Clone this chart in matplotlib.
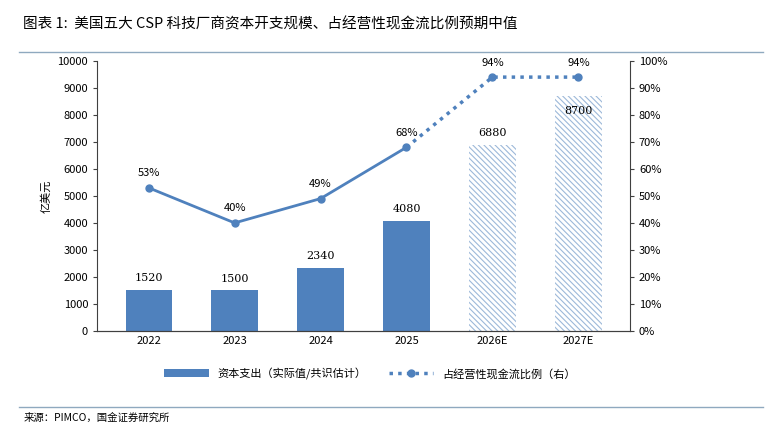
import matplotlib
matplotlib.use("Agg")
import matplotlib.pyplot as plt
from matplotlib.lines import Line2D
from matplotlib.patches import Patch

plt.rcParams['font.family'] = ['Noto Sans CJK SC', 'DejaVu Sans']
plt.rcParams['hatch.linewidth'] = 0.8

years = ['2022', '2023', '2024', '2025', '2026E', '2027E']
capex = [1520, 1500, 2340, 4080, 6880, 8700]
ratio = [53, 40, 49, 68, 94, 94]
n_actual = 4

blue = '#4F81BD'
fig = plt.figure(figsize=(7.71, 4.32), dpi=100)
ax = fig.add_axes([0.126, 0.234, 0.691, 0.625])
ax2 = ax.twinx()

x = list(range(len(years)))
for i in x:
    if i < n_actual:
        ax.bar(i, capex[i], width=0.54, color=blue, zorder=2)
    else:
        ax.bar(i, capex[i], width=0.54, facecolor='white', edgecolor='#9DB9D9',
               hatch='\\\\\\\\\\\\', linewidth=0, zorder=2)
    # the last bar's label sits inside the bar, under the line
    y_lab = capex[i] - 750 if i == len(x) - 1 else capex[i] + 250
    ax.text(i, y_lab, str(capex[i]), ha='center', va='bottom',
            fontsize=8, family='DejaVu Serif', zorder=4)

ax.set_ylim(0, 10000)
ax.set_yticks(range(0, 10001, 1000))
ax.set_xlim(-0.6, 5.6)
ax.set_xticks(x)
ax.set_xticklabels(years)
ax.set_ylabel('亿美元', fontsize=8)

ax2.plot(x[:n_actual], ratio[:n_actual], color=blue, lw=2, marker='o', ms=5, zorder=3)
ax2.plot(x[n_actual - 1:], ratio[n_actual - 1:], color=blue, lw=2.5, ls=(0, (1, 1.5)),
         marker='o', ms=5, markevery=list(range(1, 3)), zorder=3)
for i in x:
    ax2.text(i, ratio[i] + 3.5, f'{ratio[i]}%', ha='center', va='bottom', fontsize=8)
ax2.set_ylim(0, 100)
ax2.set_yticks(range(0, 101, 10))
ax2.set_yticklabels([f'{v}%' for v in range(0, 101, 10)])

for a in (ax, ax2):
    a.spines['top'].set_visible(False)
    a.tick_params(labelsize=8, length=3, color='#404040')
    for s in a.spines.values():
        s.set_color('#404040')
ax.spines['right'].set_visible(False)
ax2.spines['left'].set_visible(False)
ax.tick_params(axis='x', length=0)

handles = [Patch(facecolor=blue),
           Line2D([0], [0], color=blue, lw=2.5, ls=(0, (1, 1.5)), marker='o', ms=5)]
fig.legend(handles, ['资本支出（实际值/共识估计）', '占经营性现金流比例（右）'],
           loc='center', bbox_to_anchor=(0.48, 0.135), ncol=2, frameon=False,
           fontsize=8, handlelength=4, columnspacing=2)

fig.text(0.03, 0.945, '图表 1:  美国五大 CSP 科技厂商资本开支规模、占经营性现金流比例预期中值',
         fontsize=10.5, style='italic', va='center')
fig.add_artist(Line2D([0.025, 0.99], [0.88, 0.88], color='#8FA9BF', lw=1))
fig.add_artist(Line2D([0.025, 0.99], [0.058, 0.058], color='#8FA9BF', lw=1))
fig.text(0.03, 0.032, '来源：PIMCO，国金证券研究所', fontsize=7.5, va='center')

plt.savefig('out.png', dpi=100)
